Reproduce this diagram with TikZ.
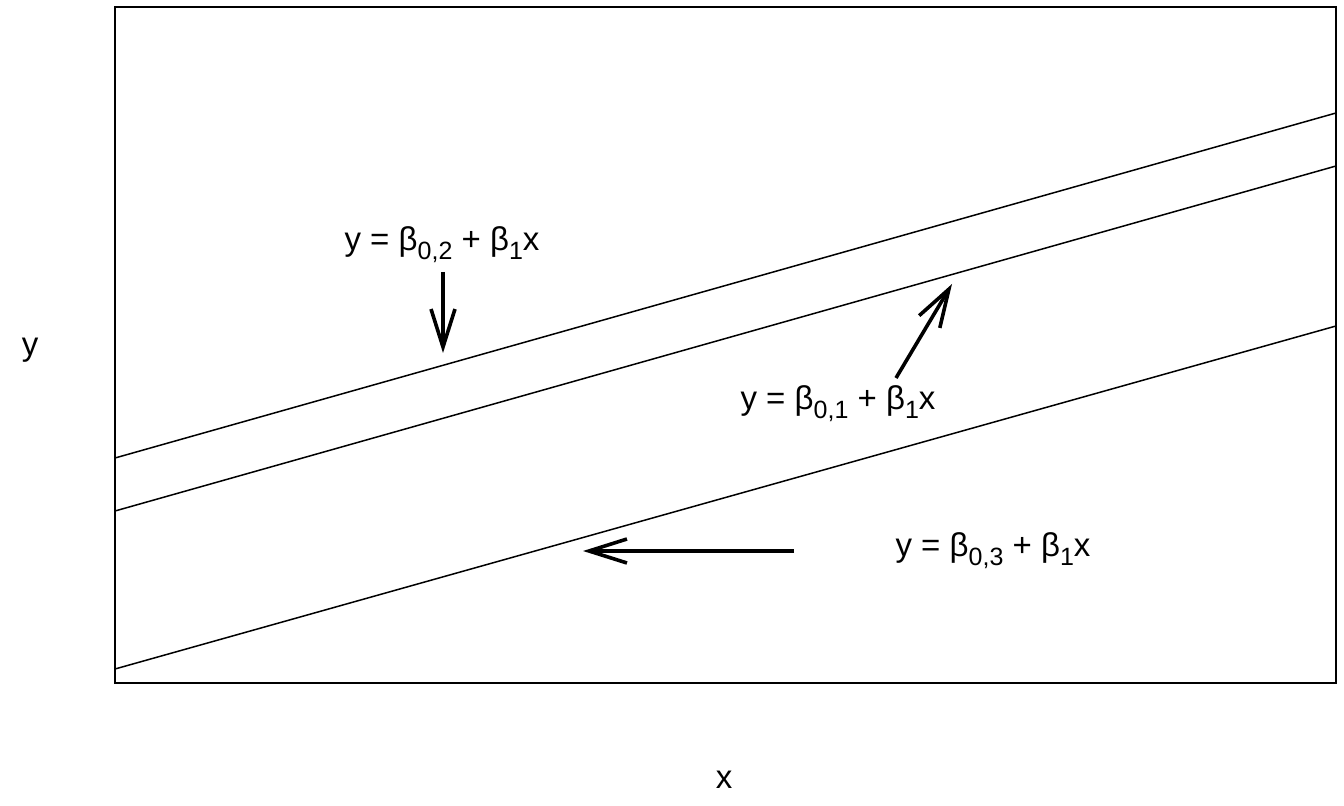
\documentclass[tikz,border=0pt]{standalone}
\usepackage{fontspec}
\setmainfont{Liberation Sans}
\usetikzlibrary{arrows.meta}
\newcommand{\sbs}[1]{\raisebox{-0.5ex}{\fontsize{12.5}{13}\selectfont #1}}
\newcommand{\eqlab}[1]{y = β\sbs{0,#1} + β\sbs{1}x}

\begin{document}
\begin{tikzpicture}[x=0.5pt, y=-0.5pt, semithick, font=\fontsize{16.5}{19}\selectfont]
  \tikzset{fit line/.style={line width=0.75pt},
           pointer/.style={line width=1.8pt, -{Straight Barb[length=19pt, width=12pt, line width=1.8pt]}}}
  \useasboundingbox (0,0) rectangle (1344,806);
  \draw[line width=0.8pt] (115,7) rectangle (1336,683);
  % the three parallel lines
  \draw[fit line] (115,458) -- (1336,113);
  \draw[fit line] (115,511) -- (1336,166);
  \draw[fit line] (115,669) -- (1336,326);
  % axis labels
  \node (ylab) at (30,350) {y};
  \node (xlab) at (724,780) {x};
  % line labels
  \node (l2) at (442,245) {\eqlab{2}};
  \node (l1) at (838,404) {\eqlab{1}};
  \node (l3) at (993,551) {\eqlab{3}};
  \coordinate (s2) at (443,272);  \coordinate (t2) at (443,353);
  \coordinate (s1) at (896,378);  \coordinate (t1) at (952,284);
  \coordinate (s3) at (794,551);  \coordinate (t3) at (583,551);
  \draw[pointer] (s2) -- (t2);
  \draw[pointer] (s1) -- (t1);
  \draw[pointer] (s3) -- (t3);
\end{tikzpicture}
\end{document}
